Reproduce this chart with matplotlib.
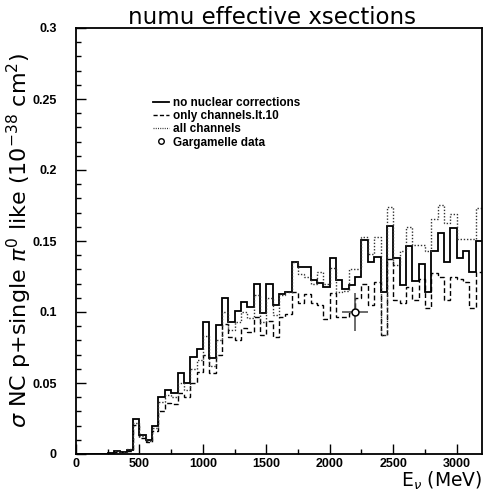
import numpy as np
import matplotlib
matplotlib.use("Agg")
import matplotlib.pyplot as plt
from matplotlib.lines import Line2D
from matplotlib.ticker import MultipleLocator, FixedLocator

# ---- data: 64 bins of 50 MeV from 0 to 3200 MeV ----
bin_edges = np.arange(0, 3201, 50)

no_nuclear = [0, 0, 0, 0, 0, 0.0005, 0.0023, 0.0016, 0.0028, 0.0246,
              0.0136, 0.0099, 0.0195, 0.0400, 0.0448, 0.0430, 0.0572, 0.0498, 0.0685, 0.0737,
              0.0930, 0.0674, 0.0910, 0.1100, 0.0930, 0.1010, 0.1070, 0.1037, 0.1200, 0.0990,
              0.1200, 0.1050, 0.1127, 0.1143, 0.1355, 0.1317, 0.1317, 0.1228, 0.1207, 0.1178,
              0.1378, 0.1228, 0.1160, 0.1190, 0.1250, 0.1510, 0.1354, 0.1390, 0.1140, 0.1605,
              0.1380, 0.1188, 0.1468, 0.1215, 0.1338, 0.1140, 0.1430, 0.1556, 0.1354, 0.1590,
              0.1378, 0.1430, 0.1285, 0.1497]

only_lt10 = [0, 0, 0, 0, 0, 0.0005, 0.0015, 0.0012, 0.0020, 0.0205,
             0.0115, 0.0085, 0.0165, 0.0300, 0.0360, 0.0352, 0.0430, 0.0404, 0.0498, 0.0580,
             0.0700, 0.0568, 0.0700, 0.0915, 0.0826, 0.0800, 0.0888, 0.0862, 0.0967, 0.0838,
             0.0940, 0.0822, 0.0967, 0.0988, 0.1143, 0.1066, 0.1127, 0.1066, 0.1050, 0.0950,
             0.1137, 0.0962, 0.0962, 0.0990, 0.1100, 0.1200, 0.1050, 0.1210, 0.0838, 0.1370,
             0.1085, 0.1060, 0.1178, 0.1085, 0.1230, 0.1026, 0.1272, 0.1244, 0.1085, 0.1244,
             0.1230, 0.1213, 0.1026, 0.1284]

all_channels = [0, 0, 0, 0, 0, 0.0005, 0.0020, 0.0015, 0.0035, 0.0218,
                0.0125, 0.0095, 0.0180, 0.0368, 0.0415, 0.0400, 0.0498, 0.0450, 0.0600, 0.0660,
                0.0830, 0.0620, 0.0800, 0.1000, 0.0870, 0.0930, 0.1000, 0.0960, 0.1120, 0.0930,
                0.1100, 0.0980, 0.1120, 0.1140, 0.1355, 0.1270, 0.1250, 0.1200, 0.1280, 0.1200,
                0.1307, 0.1143, 0.1150, 0.1303, 0.1303, 0.1530, 0.1410, 0.1530, 0.0838, 0.1740,
                0.1330, 0.1430, 0.1596, 0.1470, 0.1470, 0.1430, 0.1655, 0.1754, 0.1624, 0.1690,
                0.1514, 0.1514, 0.1514, 0.1730]

garg_E = [2200]
garg_sigma = [0.100]
garg_Eerr = [100]
garg_sigma_err = [0.0135]

x_ticks = [0, 500, 1000, 1500, 2000, 2500, 3000]
x_tick_labels = ["0", "500", "1000", "1500", "2000", "2500", "3000"]
y_ticks = [0, 0.05, 0.1, 0.15, 0.2, 0.25, 0.3]
y_tick_labels = ["0", "0.05", "0.1", "0.15", "0.2", "0.25", "0.3"]

# ---- figure ----
fig = plt.figure(figsize=(4.84, 5.0), dpi=100)
ax = fig.add_axes([76 / 484, 1 - 454 / 500, (482 - 76) / 484, (454 - 28) / 500])

ax.stairs(no_nuclear, bin_edges, baseline=None, color="black", lw=1.3, ls="-")
ax.stairs(only_lt10, bin_edges, baseline=None, color="black", lw=1.0, ls=(0, (3.5, 2.0)))
ax.stairs(all_channels, bin_edges, baseline=None, color="#333333", lw=1.0, ls=(0, (1.0, 1.3)))
ax.errorbar(garg_E, garg_sigma, xerr=garg_Eerr, yerr=garg_sigma_err, fmt="o",
            mfc="white", mec="black", ecolor="#444444", ms=5, mew=1.1, elinewidth=1.1,
            capsize=0, zorder=5)

ax.set_xlim(0, 3200)
ax.set_ylim(0, 0.3)

tick_font = {"family": "Liberation Sans", "weight": "bold", "size": 9}
ax.xaxis.set_major_locator(FixedLocator(x_ticks))
ax.set_xticklabels(x_tick_labels, fontdict=tick_font)
ax.yaxis.set_major_locator(FixedLocator(y_ticks))
ax.set_yticklabels(y_tick_labels, fontdict=tick_font)
ax.xaxis.set_minor_locator(MultipleLocator(250))
ax.yaxis.set_minor_locator(MultipleLocator(0.01))
ax.tick_params(which="both", direction="in", top=False, right=False, width=1.0)
ax.tick_params(which="major", length=7)
ax.tick_params(which="minor", length=3.5)
ax.tick_params(axis="x", which="major", pad=3)
ax.tick_params(axis="y", which="major", pad=14)
for s in ax.spines.values():
    s.set_linewidth(1.3)

ax.text(1.0, (454 - 481) / 426, r"E$_{\nu}$ (MeV)", transform=ax.transAxes,
        ha="right", va="center", fontsize=13.5, family="DejaVu Sans")
fig.text(19 / 484, 1 - 240 / 500,
         r"$\sigma$ NC p+single $\pi^{0}$ like (10$^{-38}$ cm$^{2}$)",
         rotation=90, ha="center", va="center", fontsize=16, family="DejaVu Sans")
fig.text(0.562, 0.964, "numu effective xsections", ha="center", va="center",
         fontsize=16.5, family="DejaVu Sans")

handles = [
    Line2D([], [], color="black", lw=1.3, ls="-"),
    Line2D([], [], color="black", lw=1.0, ls=(0, (3.0, 1.6))),
    Line2D([], [], color="#333333", lw=0.9, ls=(0, (0.8, 1.0))),
    Line2D([], [], color="black", marker="o", ls="none", mfc="white", ms=4, mew=1.0),
]
labels = ["no nuclear corrections", "only channels.lt.10", "all channels",
          "Gargamelle data"]
leg = ax.legend(handles, labels, loc="upper left", bbox_to_anchor=(0.19, 0.838),
                frameon=False, handlelength=1.35, handletextpad=0.3, labelspacing=0.1,
                borderaxespad=0, borderpad=0,
                prop={"family": "Liberation Sans", "weight": "bold", "size": 8.5})

fig.savefig("out.png", dpi=100)
